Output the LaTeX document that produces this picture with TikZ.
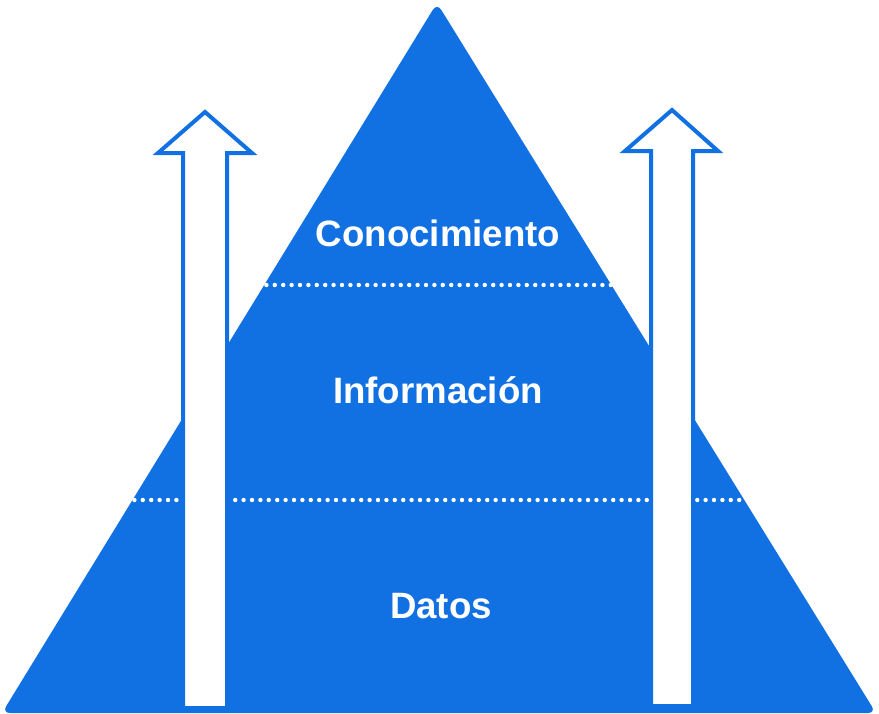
\documentclass[tikz,border=0pt]{standalone}
\usepackage{fontspec}
\setmainfont{Liberation Sans}
\begin{document}
\begin{tikzpicture}[x=0.75pt,y=-0.75pt,
  lbl/.style={text=white,font=\fontsize{27.5}{32}\selectfont\bfseries},
  dots/.style={white,line width=3.3pt,line cap=round,dash pattern=on 0pt off 6.3pt},
  arr/.style={fill=white,draw=pyr,line width=3pt,line join=miter}]
\definecolor{pyr}{HTML}{1271E2}
\useasboundingbox (0,0) rectangle (879,714);
\fill[pyr,rounded corners=6pt] (437,3) -- (876,713) -- (2,713) -- cycle;
\draw[dots] (258,285) -- (618,285);
\draw[dots] (126,500) -- (752,500);
\draw[arr] (183,708) -- (183,153) -- (158,153) -- (205,112) -- (252,153) -- (227,153) -- (227,708) -- cycle;
\draw[arr] (651,706) -- (651,151) -- (625,151) -- (672,110) -- (718,151) -- (693,151) -- (693,706) -- cycle;
\node[lbl] (k) at (438,233) {Conocimiento};
\node[lbl] (i) at (438,390) {Información};
\node[lbl] (d) at (441,606) {Datos};
\end{tikzpicture}
\end{document}
